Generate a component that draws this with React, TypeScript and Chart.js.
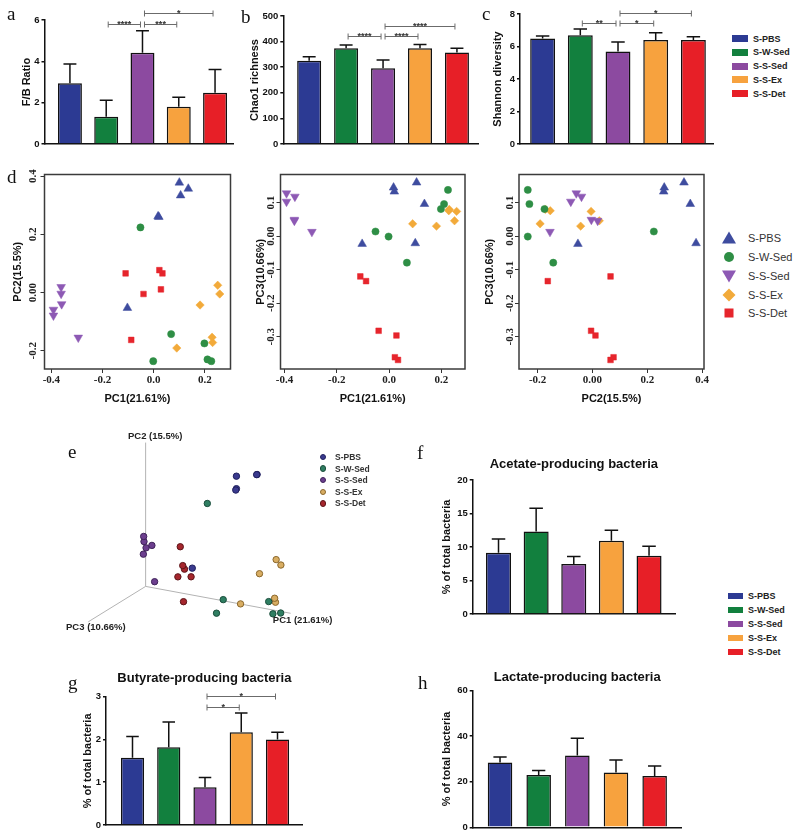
import React, { useEffect, useRef } from "react";
import { Chart, registerables } from "chart.js";

Chart.register(...registerables);

// ---------------- DATA ----------------
const groups = ["S-PBS", "S-W-Sed", "S-S-Sed", "S-S-Ex", "S-S-Det"];

const fbRatio = [2.94, 1.32, 4.42, 1.8, 2.48];
const fbRatioSem = [0.93, 0.8, 1.06, 0.46, 1.13];
const fbTicks = [0, 2, 4, 6];

const chao1 = [325, 374, 296, 374, 357];
const chao1Sem = [16, 13, 32, 15, 17];
const chao1Ticks = [0, 100, 200, 300, 400, 500];

const shannon = [6.5, 6.7, 5.7, 6.4, 6.4];
const shannonSem = [0.15, 0.37, 0.57, 0.45, 0.2];
const shannonTicks = [0, 2, 4, 6, 8];

const acetate = [9.15, 12.3, 7.46, 10.95, 8.7];
const acetateSem = [2.05, 3.5, 1.14, 1.55, 1.4];
const acetateTicks = [0, 5, 10, 15, 20];

const butyrate = [1.57, 1.82, 0.88, 2.17, 2.0];
const butyrateSem = [0.5, 0.59, 0.23, 0.45, 0.17];
const butyrateTicks = [0, 1, 2, 3];

const lactate = [28.5, 23.0, 31.5, 24.1, 22.5];
const lactateSem = [2.4, 2.0, 7.6, 5.5, 4.4];
const lactateTicks = [0, 20, 40, 60];

// significance comparisons: [group A, group B, bracket level (axis units), label]
const fbSig = [[1, 2, 5.8, "****"], [2, 3, 5.8, "***"], [2, 4, 6.35, "*"]];
const chao1Sig = [[1, 2, 422, "****"], [2, 3, 422, "****"], [2, 4, 461, "****"]];
const shannonSig = [[1, 2, 7.45, "**"], [2, 3, 7.45, "*"], [2, 4, 8.05, "*"]];
const butyrateSig = [[2, 3, 2.75, "*"], [2, 4, 3.02, "*"]];

// PCoA coordinates per sample: [PC1, PC2, PC3]
const pcoaPBS = [[0.017, 0.262, 0.145], [0.02, 0.26, 0.133], [0.105, 0.334, 0.16], [0.135, 0.357, 0.096], [-0.103, -0.053, -0.023], [0.1, 0.378, -0.021]];
const pcoaWSed = [[0.225, -0.236, 0.138], [0.21, -0.23, 0.096], [0.198, -0.175, 0.081], [-0.052, 0.224, 0.014], [-0.002, -0.236, -0.001], [0.068, -0.143, -0.079]];
const pcoaSSed = [[-0.392, -0.059, 0.128], [-0.36, -0.04, 0.118], [-0.392, -0.079, 0.103], [-0.362, -0.004, 0.049], [-0.362, 0.019, 0.046], [-0.295, -0.155, 0.013]];
const pcoaSEx = [[0.23, -0.172, 0.08], [0.228, -0.154, 0.076], [0.09, -0.191, 0.037], [0.258, -0.005, 0.074], [0.25, 0.025, 0.046], [0.181, -0.043, 0.03]];
const pcoaSDet = [[-0.11, 0.066, -0.12], [-0.088, -0.163, -0.134], [-0.04, -0.005, -0.282], [0.028, 0.011, -0.296], [0.034, 0.066, -0.369], [0.022, 0.077, -0.361]];
const pcoaSets = [pcoaPBS, pcoaWSed, pcoaSSed, pcoaSEx, pcoaSDet];

const pcTitles = ["PC1(21.61%)", "PC2(15.5%)", "PC3(10.66%)"];
const pcTitles3d = ["PC1 (21.61%)", "PC2 (15.5%)", "PC3 (10.66%)"];
const pc1Ticks = [-0.4, -0.2, 0, 0.2];
const pc1TickLabels = ["-0.4", "-0.2", "0.0", "0.2"];
const pc2Ticks = [-0.2, 0, 0.2, 0.4];
const pc2TickLabels = ["-0.2", "0.00", "0.2", "0.4"];
const pc3Ticks = [-0.3, -0.2, -0.1, 0, 0.1];
const pc3TickLabels = ["-0.3", "-0.2", "-0.1", "0.00", "0.1"];

// 3D box: origin corner and axis ends in PC space
const axisOrigin3d = [-0.4, -0.23, 0.14];
const axisEnds3d = [[0.27, -0.23, 0.14], [-0.4, 0.39, 0.14], [-0.4, -0.23, -0.39]];

// ---------------- STYLE ----------------
const FONT = "'Liberation Sans', Arial, Helvetica, sans-serif";
const SERIF = "'Liberation Serif', 'Times New Roman', serif";
const barColors = ["#2C3A93", "#12803E", "#8C4AA0", "#F7A23E", "#E71F27"];
const pcoaColors = ["#3E4C9F", "#2E8E45", "#8D59B4", "#F2AA3A", "#E6252C"];
const pcoaShapes = ["triangle", "circle", "triangle", "rectRot", "rect"];
const pcoaRot = [0, 0, 180, 0, 0];
const pcoaRadius = [5, 3.6, 5, 4.2, 4];
const fill3d = ["#3A3A8E", "#2F7E62", "#6C3E8E", "#D8AD62", "#A5262D"];
const border3d = ["#20205E", "#1A4D3B", "#3E2258", "#8A672C", "#5C1418"];

const zero = (sc: any) => {
  sc.paddingTop = 0;
  sc.paddingBottom = 0;
  sc.paddingLeft = 0;
  sc.paddingRight = 0;
};

const errorBarPlugin = (values: number[], sem: number[]) => ({
  id: "errbars",
  afterDatasetsDraw(chart: any) {
    const meta = chart.getDatasetMeta(0);
    const ys = chart.scales.y;
    const ctx = chart.ctx;
    ctx.save();
    ctx.strokeStyle = "#111";
    ctx.lineWidth = 1.5;
    meta.data.forEach((bar: any, i: number) => {
      const base = ys.getPixelForValue(values[i]);
      const top = ys.getPixelForValue(values[i] + sem[i]);
      const hw = bar.width * 0.27;
      ctx.beginPath();
      ctx.moveTo(bar.x, base);
      ctx.lineTo(bar.x, top);
      ctx.moveTo(bar.x - hw, top);
      ctx.lineTo(bar.x + hw, top);
      ctx.stroke();
    });
    ctx.restore();
  },
});

const sigPlugin = (sig: any[]) => ({
  id: "sig",
  afterDatasetsDraw(chart: any) {
    const { ctx } = chart;
    const x = chart.scales.x;
    const y = chart.scales.y;
    ctx.save();
    ctx.strokeStyle = "#6b6b6b";
    ctx.lineWidth = 1;
    ctx.fillStyle = "#333";
    ctx.font = `bold 9px ${FONT}`;
    ctx.textAlign = "center";
    ctx.textBaseline = "alphabetic";
    sig.forEach(([a, b, lvl, label]: any) => {
      const x1 = x.getPixelForValue(a) + 2;
      const x2 = x.getPixelForValue(b) - 2;
      const yy = Math.round(y.getPixelForValue(lvl)) + 0.5;
      ctx.beginPath();
      ctx.moveTo(x1, yy);
      ctx.lineTo(x2, yy);
      ctx.moveTo(x1, yy - 3);
      ctx.lineTo(x1, yy + 3);
      ctx.moveTo(x2, yy - 3);
      ctx.lineTo(x2, yy + 3);
      ctx.stroke();
      ctx.fillText(label, (x1 + x2) / 2, yy + 2);
    });
    ctx.restore();
  },
});

const framePlugin = {
  id: "frame",
  afterDatasetsDraw(chart: any) {
    const { ctx, chartArea: a } = chart;
    ctx.save();
    ctx.strokeStyle = "#3b3b3b";
    ctx.lineWidth = 1.5;
    ctx.strokeRect(a.left, a.top, a.right - a.left, a.bottom - a.top);
    ctx.restore();
  },
};

type Rect = { left: number; top: number; width: number; height: number };
type Area = { left: number; right: number; top: number; bottom: number };

function barConfig(s: any) {
  const c: Rect = s.canvas;
  const a: Area = s.area;
  const yW = a.left - c.left;
  const padRight = c.left + c.width - a.right;
  const padBottom = c.top + c.height - a.bottom;
  const TLH = 13 * 1.2;
  let padTop = a.top - c.top;
  let titleBottom = 0;
  if (s.title) {
    padTop = s.titleY - c.top - TLH / 2;
    titleBottom = a.top - c.top - padTop - TLH;
  }
  const yTitlePad = s.yTitleX - c.left - (11 * 1.2) / 2;
  const ticks: number[] = s.ticks;
  return {
    type: "bar",
    data: {
      datasets: [
        {
          label: "mean",
          data: s.values.map((v: number, i: number) => ({ x: i, y: v })),
          backgroundColor: barColors,
          borderColor: "#111",
          borderWidth: 1.5,
          borderSkipped: "start",
          barPercentage: s.barPct,
          categoryPercentage: 1,
        },
      ],
    },
    options: {
      responsive: false,
      maintainAspectRatio: false,
      animation: false,
      layout: { padding: { left: 0, right: padRight, top: padTop, bottom: padBottom } },
      plugins: {
        legend: { display: false },
        tooltip: { enabled: false },
        title: s.title
          ? {
              display: true,
              text: s.title,
              fullSize: false,
              font: { family: FONT, size: 13, weight: "bold", lineHeight: 1.2 },
              color: "#111",
              padding: { top: 0, bottom: titleBottom },
            }
          : { display: false },
      },
      scales: {
        x: {
          type: "linear",
          min: s.xMin,
          max: s.xMax,
          offset: false,
          afterBuildTicks: (sc: any) => {
            sc.ticks = s.values.map((_: number, i: number) => ({ value: i }));
          },
          ticks: { display: false },
          grid: { display: false, offset: false },
          border: { display: true, color: "#111", width: 1.5 },
          afterFit: (sc: any) => {
            sc.height = 0;
            zero(sc);
          },
        },
        y: {
          type: "linear",
          min: 0,
          max: ticks[ticks.length - 1],
          afterBuildTicks: (sc: any) => {
            sc.ticks = ticks.map((v) => ({ value: v }));
          },
          ticks: { font: { family: FONT, size: 9.5, weight: "bold" }, color: "#111", padding: 2 },
          grid: { display: true, drawOnChartArea: false, drawTicks: true, tickLength: 3, color: "#111", lineWidth: 1.5 },
          border: { display: true, color: "#111", width: 1.5 },
          title: {
            display: true,
            text: s.yTitle,
            font: { family: FONT, size: 11, weight: "bold", lineHeight: 1.2 },
            color: "#111",
            padding: { top: yTitlePad, bottom: 0 },
          },
          afterFit: (sc: any) => {
            sc.width = yW;
            zero(sc);
          },
        },
      },
    },
    plugins: [errorBarPlugin(s.values, s.sem), sigPlugin(s.sig || [])],
  };
}

function pcoaConfig(s: any) {
  const c: Rect = s.canvas;
  const a: Area = s.area;
  const yW = a.left - c.left;
  const xH = c.top + c.height - a.bottom;
  const lh = 11 * 1.2;
  return {
    type: "scatter",
    data: {
      datasets: groups.map((g, k) => ({
        label: g,
        data: pcoaSets[k].map((p) => ({ x: p[s.xi], y: p[s.yi] })),
        pointStyle: pcoaShapes[k],
        pointRotation: pcoaRot[k],
        pointRadius: pcoaRadius[k],
        backgroundColor: pcoaColors[k],
        borderColor: pcoaColors[k],
        borderWidth: 0.5,
      })),
    },
    options: {
      responsive: false,
      maintainAspectRatio: false,
      animation: false,
      layout: { padding: { left: 0, top: a.top - c.top, right: c.left + c.width - a.right, bottom: 0 } },
      plugins: { legend: { display: false }, tooltip: { enabled: false } },
      scales: {
        x: {
          type: "linear",
          min: s.xRange[0],
          max: s.xRange[1],
          afterBuildTicks: (sc: any) => {
            sc.ticks = s.xTicks.map((v: number) => ({ value: v }));
          },
          ticks: {
            callback: (_v: any, i: number) => s.xTickLabels[i],
            font: { family: SERIF, size: 11, weight: "bold" },
            color: "#222",
            maxRotation: 0,
            minRotation: 0,
            autoSkip: false,
            padding: 1,
          },
          grid: { display: true, drawOnChartArea: false, drawTicks: true, tickLength: 4, color: "#333", lineWidth: 1 },
          border: { display: false },
          title: {
            display: true,
            text: s.xTitle,
            font: { family: FONT, size: 11, weight: "bold", lineHeight: 1.2 },
            color: "#111",
            padding: { top: 0, bottom: c.top + c.height - s.xTitleY - lh / 2 },
          },
          afterFit: (sc: any) => {
            sc.height = xH;
            zero(sc);
          },
        },
        y: {
          type: "linear",
          min: s.yRange[0],
          max: s.yRange[1],
          afterBuildTicks: (sc: any) => {
            sc.ticks = s.yTicks.map((v: number) => ({ value: v }));
          },
          ticks: {
            callback: (_v: any, i: number) => s.yTickLabels[i],
            font: { family: SERIF, size: 11, weight: "bold" },
            color: "#222",
            minRotation: 90,
            maxRotation: 90,
            crossAlign: "center",
            autoSkip: false,
            padding: s.yTickPad,
          },
          grid: { display: true, drawOnChartArea: false, drawTicks: true, tickLength: 4, color: "#333", lineWidth: 1 },
          border: { display: false },
          title: {
            display: true,
            text: s.yTitle,
            font: { family: FONT, size: 11, weight: "bold", lineHeight: 1.2 },
            color: "#111",
            padding: { top: s.yTitleX - c.left - lh / 2, bottom: 0 },
          },
          afterFit: (sc: any) => {
            sc.width = yW;
            zero(sc);
          },
        },
      },
    },
    plugins: [framePlugin],
  };
}

// oblique projection of the PCoA space for the 3D view
const project = (p: number[]) => ({ x: p[0] + 0.5 * p[2], y: p[1] - 0.173 * p[0] + 0.288 * p[2] });
const label3dOffsets = [[12, 7], [9.5, -6], [7.6, 6]];

const e3dLabelPlugin = {
  id: "e3dLabels",
  afterDatasetsDraw(chart: any) {
    const { ctx } = chart;
    const x = chart.scales.x;
    const y = chart.scales.y;
    ctx.save();
    ctx.font = `bold 9.5px ${FONT}`;
    ctx.fillStyle = "#222";
    ctx.textAlign = "center";
    ctx.textBaseline = "middle";
    axisEnds3d.forEach((end, i) => {
      const p = project(end);
      ctx.fillText(pcTitles3d[i], x.getPixelForValue(p.x) + label3dOffsets[i][0], y.getPixelForValue(p.y) + label3dOffsets[i][1]);
    });
    ctx.restore();
  },
};

function e3dConfig() {
  const datasets: any[] = groups.map((g, k) => ({
    label: g,
    data: pcoaSets[k].map(project),
    pointRadius: 3.2,
    backgroundColor: fill3d[k],
    borderColor: border3d[k],
    borderWidth: 1,
    order: 1,
  }));
  axisEnds3d.forEach((end, i) => {
    datasets.push({
      label: "axis" + i,
      data: [project(axisOrigin3d), project(end)],
      showLine: true,
      borderColor: "#b3b3b3",
      borderWidth: 1,
      pointRadius: 0,
      order: 5,
    });
  });
  return {
    type: "scatter",
    data: { datasets },
    options: {
      responsive: false,
      maintainAspectRatio: false,
      animation: false,
      layout: { padding: 0 },
      plugins: { legend: { display: false }, tooltip: { enabled: false } },
      scales: {
        x: { type: "linear", display: false, min: -0.9797, max: 0.8221 },
        y: { type: "linear", display: false, min: -0.33, max: 0.5753 },
      },
    },
    plugins: [e3dLabelPlugin],
  };
}

function ChartBox({ rect, make }: { rect: Rect; make: () => any }) {
  const ref = useRef<HTMLCanvasElement>(null);
  useEffect(() => {
    const chart = new Chart(ref.current as HTMLCanvasElement, make());
    return () => chart.destroy();
  }, []);
  return (
    <canvas
      ref={ref}
      width={rect.width}
      height={rect.height}
      style={{ position: "absolute", left: rect.left, top: rect.top, width: rect.width, height: rect.height }}
    />
  );
}

function Letter({ ch, x, baseline }: { ch: string; x: number; baseline: number }) {
  return (
    <div style={{ position: "absolute", left: x, top: baseline - 15.9, fontFamily: SERIF, fontSize: 19, lineHeight: "19px", color: "#111" }}>
      {ch}
    </div>
  );
}

function SwatchLegend({ left, textLeft, y0, step, w, h, size }: any) {
  return (
    <>
      {groups.map((g, i) => (
        <React.Fragment key={g}>
          <div style={{ position: "absolute", left, top: y0 + i * step - h / 2, width: w, height: h, background: barColors[i] }} />
          <div
            style={{
              position: "absolute",
              left: textLeft,
              top: y0 + i * step - 6,
              height: 12,
              lineHeight: "12px",
              fontFamily: FONT,
              fontWeight: "bold",
              fontSize: size,
              color: "#222",
              whiteSpace: "nowrap",
            }}
          >
            {g}
          </div>
        </React.Fragment>
      ))}
    </>
  );
}

function ShapeIcon({ k }: { k: number }) {
  const col = pcoaColors[k];
  let el: any;
  if (k === 0) el = <polygon points="8,1.5 1,13.5 15,13.5" fill={col} />;
  else if (k === 1) el = <circle cx={8} cy={8} r={5} fill={col} />;
  else if (k === 2) el = <polygon points="1,2.5 15,2.5 8,14.5" fill={col} />;
  else if (k === 3) el = <polygon points="8,1.5 14.5,8 8,14.5 1.5,8" fill={col} />;
  else el = <rect x={3.5} y={3.5} width={9} height={9} fill={col} />;
  return (
    <svg width={16} height={16} style={{ display: "block" }}>
      {el}
    </svg>
  );
}

function ShapeLegend() {
  const ys = [238, 257, 276, 294.5, 313];
  return (
    <>
      {groups.map((g, i) => (
        <React.Fragment key={g}>
          <div style={{ position: "absolute", left: 721, top: ys[i] - 8 }}>
            <ShapeIcon k={i} />
          </div>
          <div
            style={{
              position: "absolute",
              left: 748,
              top: ys[i] - 7,
              height: 14,
              lineHeight: "14px",
              fontFamily: FONT,
              fontSize: 11,
              color: "#333",
              whiteSpace: "nowrap",
            }}
          >
            {g}
          </div>
        </React.Fragment>
      ))}
    </>
  );
}

function DotLegend() {
  return (
    <>
      {groups.map((g, i) => (
        <React.Fragment key={g}>
          <div
            style={{
              position: "absolute",
              left: 323 - 3.3,
              top: 457 + i * 11.6 - 3.3,
              width: 4.6,
              height: 4.6,
              borderRadius: "50%",
              background: fill3d[i],
              border: `1px solid ${border3d[i]}`,
            }}
          />
          <div
            style={{
              position: "absolute",
              left: 335,
              top: 457 + i * 11.6 - 6,
              height: 12,
              lineHeight: "12px",
              fontFamily: FONT,
              fontWeight: "bold",
              fontSize: 8.5,
              color: "#333",
              whiteSpace: "nowrap",
            }}
          >
            {g}
          </div>
        </React.Fragment>
      ))}
    </>
  );
}

const R = (left: number, top: number, width: number, height: number): Rect => ({ left, top, width, height });
const A = (left: number, right: number, top: number, bottom: number): Area => ({ left, right, top, bottom });

export default function App() {
  return (
    <div style={{ position: "absolute", left: 0, top: 0, width: 800, height: 835, background: "#fff", overflow: "hidden" }}>
      <ChartBox
        rect={R(0, 0, 245, 160)}
        make={() =>
          barConfig({ canvas: R(0, 0, 245, 160), area: A(44.5, 233, 20, 144), values: fbRatio, sem: fbRatioSem, ticks: fbTicks, xMin: -0.701, xMax: 4.495, barPct: 0.66, yTitle: "F/B Ratio", yTitleX: 27, sig: fbSig })
        }
      />
      <ChartBox
        rect={R(245, 0, 245, 160)}
        make={() =>
          barConfig({ canvas: R(245, 0, 245, 160), area: A(283.3, 478, 16, 144), values: chao1, sem: chao1Sem, ticks: chao1Ticks, xMin: -0.7, xMax: 4.57, barPct: 0.65, yTitle: "Chao1 richness", yTitleX: 255, sig: chao1Sig })
        }
      />
      <ChartBox
        rect={R(490, 0, 230, 160)}
        make={() =>
          barConfig({ canvas: R(490, 0, 230, 160), area: A(520, 713, 14, 144), values: shannon, sem: shannonSem, ticks: shannonTicks, xMin: -0.6, xMax: 4.52, barPct: 0.66, yTitle: "Shannon diversity", yTitleX: 498, sig: shannonSig })
        }
      />
      <SwatchLegend left={732} textLeft={753} y0={38.5} step={13.8} w={16} h={7} size={9} />

      <ChartBox
        rect={R(0, 160, 250, 255)}
        make={() =>
          pcoaConfig({ canvas: R(0, 160, 250, 255), area: A(44.5, 230.5, 174.5, 369), xi: 0, yi: 1, xRange: [-0.427, 0.3], yRange: [-0.263, 0.406], xTicks: pc1Ticks, xTickLabels: pc1TickLabels, yTicks: pc2Ticks, yTickLabels: pc2TickLabels, xTitle: pcTitles[0], yTitle: pcTitles[1], xTitleY: 399, yTitleX: 18, yTickPad: -2.6 })
        }
      />
      <ChartBox
        rect={R(250, 160, 225, 255)}
        make={() =>
          pcoaConfig({ canvas: R(250, 160, 225, 255), area: A(280.5, 465, 174.5, 369), xi: 0, yi: 2, xRange: [-0.415, 0.29], yRange: [-0.396, 0.184], xTicks: pc1Ticks, xTickLabels: pc1TickLabels, yTicks: pc3Ticks, yTickLabels: pc3TickLabels, xTitle: pcTitles[0], yTitle: pcTitles[2], xTitleY: 399, yTitleX: 261, yTickPad: -4.6 })
        }
      />
      <ChartBox
        rect={R(478, 160, 236, 255)}
        make={() =>
          pcoaConfig({ canvas: R(478, 160, 236, 255), area: A(519, 704, 174.5, 369), xi: 1, yi: 2, xRange: [-0.268, 0.407], yRange: [-0.396, 0.184], xTicks: pc2Ticks, xTickLabels: pc2TickLabels, yTicks: pc3Ticks, yTickLabels: pc3TickLabels, xTitle: pcTitles[1], yTitle: pcTitles[2], xTitleY: 399, yTitleX: 490, yTickPad: -4.6 })
        }
      />
      <ShapeLegend />

      <ChartBox rect={R(0, 420, 400, 220)} make={() => e3dConfig()} />
      <DotLegend />

      <ChartBox
        rect={R(425, 440, 260, 185)}
        make={() =>
          barConfig({ canvas: R(425, 440, 260, 185), area: A(472.7, 675, 480, 614), values: acetate, sem: acetateSem, ticks: acetateTicks, xMin: -0.686, xMax: 4.69, barPct: 0.665, yTitle: "% of total bacteria", yTitleX: 447, title: "Acetate-producing bacteria", titleY: 464 })
        }
      />
      <SwatchLegend left={728} textLeft={748} y0={596} step={14} w={15} h={6} size={9} />

      <ChartBox
        rect={R(75, 655, 235, 180)}
        make={() =>
          barConfig({ canvas: R(75, 655, 235, 180), area: A(106, 302.7, 696.7, 825), values: butyrate, sem: butyrateSem, ticks: butyrateTicks, xMin: -0.731, xMax: 4.695, barPct: 0.64, yTitle: "% of total bacteria", yTitleX: 88, title: "Butyrate-producing bacteria", titleY: 678, sig: butyrateSig })
        }
      />
      <ChartBox
        rect={R(425, 655, 265, 180)}
        make={() =>
          barConfig({ canvas: R(425, 655, 265, 180), area: A(472.7, 681.7, 690.7, 827.3), values: lactate, sem: lactateSem, ticks: lactateTicks, xMin: -0.707, xMax: 4.7, barPct: 0.635, yTitle: "% of total bacteria", yTitleX: 446.7, title: "Lactate-producing bacteria", titleY: 677 })
        }
      />

      <Letter ch="a" x={7} baseline={20} />
      <Letter ch="b" x={241} baseline={22.7} />
      <Letter ch="c" x={482} baseline={20} />
      <Letter ch="d" x={7} baseline={183} />
      <Letter ch="e" x={68} baseline={458} />
      <Letter ch="f" x={417} baseline={459} />
      <Letter ch="g" x={68} baseline={689} />
      <Letter ch="h" x={418} baseline={689} />
    </div>
  );
}
